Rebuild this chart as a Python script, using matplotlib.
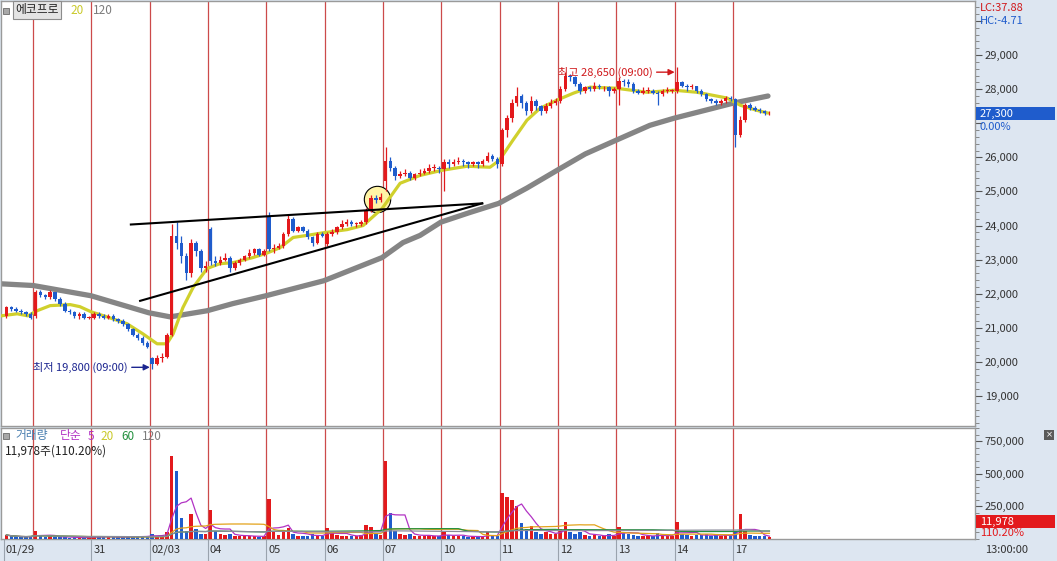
import numpy as np
import pandas as pd
import matplotlib
matplotlib.use('Agg')
import matplotlib.pyplot as plt
import matplotlib.ticker as mticker
from matplotlib.patches import Rectangle

plt.rcParams['font.family'] = ['Noto Sans CJK KR', 'DejaVu Sans']
plt.rcParams['axes.unicode_minus'] = False

# ---- data: 30분봉, 에코프로 01/29 ~ 02/17 ----
day_labels = ['01/29', '', '31', '02/03', '04', '05', '06', '07', '10', '11', '12', '13', '14', '17']
day_sizes = [6, 12, 12, 12, 12, 12, 12, 12, 12, 12, 12, 12, 12, 8]

opens = [
    21350, 21600, 21550, 21500, 21450, 21400,
    21350, 22050, 21950, 21900, 22050, 21850, 21700, 21500, 21450, 21350, 21400, 21300,
    21300, 21400, 21350, 21300, 21350, 21250, 21200, 21100, 20950, 20800, 20700, 20550,
    20100, 19950, 20100, 20150, 20800, 23700, 23500, 23100, 22600, 23500, 23250, 22750,
    23900, 22950, 22900, 23000, 23050, 22750, 22900, 23000, 23100, 23200, 23300, 23150,
    24250, 23300, 23350, 23400, 23750, 24200, 23850, 23950, 23850, 23650, 23500, 23750,
    23450, 23750, 23800, 23950, 24050, 24100, 24050, 24050, 24100, 24450, 24800, 24750,
    25300, 25900, 25700, 25450, 25500, 25550, 25400, 25500, 25550, 25600, 25700, 25700,
    25650, 25850, 25800, 25850, 25900, 25850, 25800, 25850, 25800, 25900, 26050, 25950,
    25800, 26800, 27150, 27600, 27800, 27600, 27350, 27650, 27500, 27350, 27500, 27600,
    27650, 28000, 28400, 28350, 28150, 27950, 28050, 28000, 28100, 28050, 28050, 27950,
    28000, 28250, 28200, 28150, 27950, 27900, 27950, 27950, 27900, 27850, 27950, 27950,
    27950, 28200, 28100, 28050, 28100, 27950, 27850, 27700, 27650, 27600, 27650, 27750,
    27700, 26650, 27100, 27550, 27450, 27400, 27350, 27300,
]
highs = [
    21650, 21650, 21600, 21550, 21500, 21450,
    22100, 22100, 22000, 22100, 22050, 21900, 21750, 21550, 21500, 21450, 21450, 21350,
    21450, 21450, 21400, 21400, 21400, 21300, 21250, 21150, 21000, 20850, 20750, 20600,
    20150, 20200, 20250, 20850, 24050, 24100, 23700, 23200, 23600, 23550, 23300, 22950,
    23950, 23100, 23100, 23200, 23100, 22950, 23050, 23150, 23300, 23350, 23350, 23300,
    24400, 23450, 23500, 23800, 24300, 24250, 24000, 24000, 23900, 23700, 23800, 23800,
    23800, 23900, 24000, 24150, 24200, 24150, 24100, 24150, 24500, 24900, 24900, 24950,
    26300, 26000, 25750, 25600, 25650, 25600, 25550, 25650, 25700, 25800, 25800, 25750,
    25950, 25950, 25950, 26000, 25950, 25900, 25900, 25900, 25950, 26150, 26100, 26000,
    26850, 27250, 27700, 28050, 27850, 27650, 27800, 27700, 27550, 27600, 27700, 27750,
    28100, 28500, 28450, 28400, 28200, 28100, 28100, 28200, 28150, 28100, 28100, 28050,
    28350, 28300, 28300, 28200, 28000, 28050, 28050, 28000, 27950, 28000, 28050, 28000,
    28650, 28250, 28150, 28150, 28100, 28000, 27900, 27750, 27700, 27700, 27800, 27800,
    27750, 27200, 27600, 27600, 27500, 27450, 27400, 27350,
]
lows = [
    21300, 21500, 21450, 21400, 21350, 21250,
    21300, 21900, 21850, 21850, 21800, 21650, 21450, 21400, 21300, 21250, 21250, 21250,
    21250, 21300, 21250, 21250, 21200, 21150, 21050, 20900, 20750, 20650, 20500, 20400,
    19800, 19900, 20000, 20100, 20750, 23300, 22900, 22400, 22500, 23100, 22650, 22650,
    22850, 22800, 22850, 22950, 22650, 22700, 22850, 22950, 23050, 23150, 23100, 23100,
    23250, 23200, 23300, 23350, 23700, 23800, 23800, 23800, 23600, 23400, 23450, 23650,
    23400, 23700, 23750, 23900, 24000, 24000, 23950, 24000, 24050, 24400, 24650, 24700,
    25000, 25600, 25350, 25400, 25450, 25350, 25350, 25450, 25500, 25550, 25600, 25550,
    25000, 25700, 25750, 25800, 25750, 25700, 25750, 25700, 25750, 25850, 25900, 25700,
    25750, 26600, 27050, 27500, 27450, 27250, 27300, 27400, 27250, 27300, 27450, 27550,
    27600, 27950, 28250, 28100, 27850, 27900, 27950, 27950, 28000, 27950, 27800, 27900,
    27550, 28100, 28050, 27900, 27850, 27850, 27900, 27850, 27550, 27800, 27900, 27900,
    27900, 28050, 27950, 28000, 27900, 27800, 27650, 27600, 27550, 27550, 27600, 27650,
    26300, 26600, 27050, 27400, 27350, 27300, 27250, 27250,
]
closes = [
    21600, 21550, 21500, 21450, 21400, 21300,
    22050, 21950, 21900, 22050, 21850, 21700, 21500, 21450, 21350, 21400, 21300, 21300,
    21400, 21350, 21300, 21350, 21250, 21200, 21100, 20950, 20800, 20700, 20550, 20450,
    19950, 20100, 20150, 20800, 23700, 23500, 23100, 22600, 23500, 23250, 22750, 22800,
    22950, 22900, 23000, 23050, 22750, 22900, 23000, 23100, 23200, 23300, 23150, 23250,
    23300, 23350, 23400, 23750, 24200, 23850, 23950, 23850, 23650, 23500, 23750, 23700,
    23750, 23800, 23950, 24050, 24100, 24050, 24050, 24100, 24450, 24800, 24750, 24850,
    25900, 25700, 25450, 25500, 25550, 25400, 25500, 25550, 25600, 25700, 25700, 25650,
    25850, 25800, 25850, 25900, 25850, 25800, 25850, 25800, 25900, 26050, 25950, 25800,
    26800, 27150, 27600, 27800, 27600, 27350, 27650, 27500, 27350, 27500, 27600, 27650,
    28000, 28400, 28350, 28150, 27950, 28050, 28000, 28100, 28050, 28050, 27950, 28000,
    28250, 28200, 28150, 27950, 27900, 27950, 27950, 27900, 27850, 27950, 27950, 27950,
    28200, 28100, 28050, 28100, 27950, 27850, 27700, 27650, 27600, 27650, 27750, 27700,
    26650, 27100, 27550, 27450, 27400, 27350, 27300, 27300,
]
volumes = [
    30000, 20000, 15000, 12000, 15000, 25000,
    60000, 20000, 15000, 25000, 15000, 12000, 15000, 10000, 12000, 10000, 10000, 15000,
    25000, 15000, 15000, 12000, 15000, 12000, 15000, 20000, 18000, 15000, 20000, 25000,
    40000, 25000, 20000, 50000, 636000, 520000, 160000, 60000, 191000, 77000, 40000, 35000,
    222000, 60000, 35000, 30000, 35000, 20000, 25000, 20000, 25000, 20000, 15000, 20000,
    306000, 60000, 30000, 50000, 84000, 40000, 25000, 20000, 25000, 35000, 30000, 20000,
    84000, 54000, 30000, 25000, 20000, 25000, 20000, 30000, 107000, 90000, 40000, 30000,
    597000, 199000, 60000, 35000, 30000, 40000, 25000, 20000, 25000, 30000, 20000, 20000,
    50000, 30000, 20000, 25000, 20000, 15000, 20000, 15000, 20000, 50000, 25000, 20000,
    350000, 320000, 300000, 250000, 120000, 80000, 100000, 50000, 40000, 50000, 40000, 35000,
    80000, 130000, 50000, 40000, 50000, 30000, 25000, 30000, 20000, 20000, 40000, 25000,
    90000, 50000, 40000, 30000, 20000, 25000, 20000, 20000, 45000, 25000, 20000, 20000,
    130000, 40000, 30000, 25000, 30000, 30000, 35000, 25000, 30000, 25000, 30000, 25000,
    60000, 191000, 60000, 30000, 25000, 20000, 20000, 11978,
]

# 이동평균 (차트에서 읽은 값, x = 봉 번호)
ma20_x = [-0.6, 2.7, 4.9, 6.8, 9.5, 13.6, 15.6, 17.9, 21.2, 25.3, 28.6, 31.5, 33.5, 34.8, 36.8, 38.9,
          41.8, 44.4, 47.1, 51.2, 53.9, 56.8, 59.5, 62.3, 65.8, 70.6, 73.9, 77.8, 81.5, 85.6, 90.1,
          95.3, 100.0, 101.9, 104.7, 107.6, 110.3, 113.8, 117.1, 120.6, 125.9, 132.3, 137.9, 142.6,
          145.9, 148.8, 151.5, 154.9, 157.2]
ma20_y = [21350, 21410, 21350, 21500, 21650, 21680, 21620, 21470, 21320, 21120, 20820, 20530, 20530, 20820, 21590, 22180,
          22740, 22880, 22910, 23060, 23180, 23350, 23650, 23710, 23790, 23880, 24000, 24500, 25240, 25470, 25620,
          25740, 25710, 25910, 26500, 27090, 27440, 27680, 27880, 28060, 28030, 27910, 27970, 27910,
          27820, 27740, 27530, 27380, 27300]
ma120_x = [-0.6, 6.0, 17.9, 29.8, 34.2, 41.8, 47.1, 53.9, 65.8, 77.8, 82.1, 85.6, 89.9, 95.8, 101.8,
           107.6, 113.8, 119.6, 125.9, 132.9, 137.9, 145.9, 150.0, 157.2]
ma120_y = [22290, 22240, 21940, 21440, 21320, 21500, 21710, 21940, 22380, 23060, 23500, 23710, 24100, 24380, 24650,
           25100, 25620, 26100, 26500, 26940, 27150, 27440, 27590, 27800]

# 추세선(삼각수렴)과 돌파 표시
trend_upper = ([26.1, 98.4], [24030, 24650])
trend_lower = ([28.0, 98.4], [21790, 24650])
breakout = (76.7, 24790)

W, H = 1057, 561
UP, DOWN = '#e3191c', '#1f5ccc'

o = np.array(opens); h = np.array(highs); l = np.array(lows); c = np.array(closes)
v = np.array(volumes)
n = len(c)
x = np.arange(n) + 0.5
day_starts = np.concatenate([[0], np.cumsum(day_sizes)[:-1]])

fig = plt.figure(figsize=(W / 100, H / 100), dpi=100, facecolor='#dde6f1')


def fx(px):
    return px / W


def fy(py):
    return 1 - py / H


ax = fig.add_axes([fx(1), fy(426), fx(975) - fx(1), fy(1) - fy(426)])
axv = fig.add_axes([fx(1), fy(539), fx(975) - fx(1), fy(428) - fy(539)], sharex=ax)
for a in (ax, axv):
    a.set_facecolor('white')
    for s in a.spines.values():
        s.set_color('#9a9a9a')
        s.set_linewidth(1)
    for b in day_starts[1:]:
        a.axvline(b, color='#cc4a4a', lw=0.9, zorder=1)

# ---- 가격 차트 ----
ax.plot(ma120_x, ma120_y, color='#858585', lw=3.8, solid_capstyle='round', zorder=2)
ax.scatter([breakout[0]], [breakout[1]], s=360, facecolor='#fff4a6', edgecolor='black', lw=0.8, zorder=2.5)
ax.plot(ma20_x, ma20_y, color='#d0d02c', lw=2.3, solid_capstyle='round', zorder=3)

cc = np.where(c >= o, UP, DOWN)
ax.vlines(x, l, h, colors=cc, lw=0.9, zorder=4)
ax.bar(x, np.maximum(np.abs(c - o), 15), bottom=np.minimum(o, c), width=0.72, color=cc, lw=0, zorder=4)

ax.plot(*trend_upper, color='black', lw=1.5, zorder=6)
ax.plot(*trend_lower, color='black', lw=1.5, zorder=6)

i_lo = int(np.argmin(l))
i_hi = int(np.argmax(h))
ax.annotate(f'최저 {l[i_lo]:,} (09:00)', xy=(i_lo, l[i_lo] + 40), xytext=(-16, 0), textcoords='offset points',
            ha='right', va='center', fontsize=8, color='#1c2590',
            arrowprops=dict(arrowstyle='-|>', color='#1c2590', lw=1, mutation_scale=9, shrinkA=1, shrinkB=0), zorder=7)
ax.annotate(f'최고 {h[i_hi]:,} (09:00)', xy=(i_hi, h[i_hi] - 150), xytext=(-16, 0), textcoords='offset points',
            ha='right', va='center', fontsize=8, color='#d0191c',
            arrowprops=dict(arrowstyle='-|>', color='#d0191c', lw=1, mutation_scale=9, shrinkA=1, shrinkB=0), zorder=7)

ax.set_xlim(-0.62, 199.8)
ax.set_ylim(18118, 30588)
ax.yaxis.tick_right()
ax.yaxis.set_major_locator(mticker.MultipleLocator(1000))
ax.yaxis.set_minor_locator(mticker.MultipleLocator(200))
# 27,000 눈금 라벨은 현재가 박스에 가려짐
ax.yaxis.set_major_formatter(mticker.FuncFormatter(
    lambda val, pos: f'{val:,.0f}' if 19000 <= val <= 29000 and val != 27000 else ''))
ax.tick_params(axis='y', which='major', length=5, width=0.8, color='#555555', labelsize=8, labelcolor='#333333', pad=2)
ax.tick_params(axis='y', which='minor', length=3, width=0.6, color='#777777')
ax.tick_params(axis='x', bottom=False, labelbottom=False)

# ---- 거래량 ----
prev = np.concatenate([[o[0]], c[:-1]])
vc = np.where(c >= prev, UP, DOWN)
axv.bar(x, v, width=0.72, color=vc, lw=0, zorder=3)
vs = pd.Series(v, dtype=float)
for win, col in zip([5, 20, 60, 120], ['#b233c4', '#e3a21a', '#24913f', '#8a8a9a']):
    axv.plot(x, vs.rolling(win, min_periods=1).mean(), color=col, lw=0.9, zorder=4)

axv.set_ylim(0, 850000)
axv.yaxis.tick_right()
axv.yaxis.set_major_locator(mticker.FixedLocator([250000, 500000, 750000]))
axv.yaxis.set_minor_locator(mticker.MultipleLocator(50000))
axv.yaxis.set_major_formatter(mticker.FuncFormatter(lambda val, pos: f'{val:,.0f}'))
axv.tick_params(axis='y', which='major', length=5, width=0.8, color='#555555', labelsize=8, labelcolor='#333333', pad=2)
axv.tick_params(axis='y', which='minor', length=3, width=0.6, color='#777777')

sep = [s for s, lab in zip(day_starts, day_labels) if lab]
axv.set_xticks(sep)
axv.set_xticklabels([''] * len(sep))
axv.tick_params(axis='x', length=16, width=0.8, color='#9aa3ae', direction='out')
for s, lab in zip(day_starts, day_labels):
    if lab:
        axv.text(s + 0.35, -0.1, lab, transform=axv.get_xaxis_transform(), ha='left', va='center',
                 fontsize=8, color='#333333', clip_on=False)

# ---- 상단 / 우측 라벨 ----
fig.patches.append(Rectangle((fx(3), fy(14)), fx(6), fy(8) - fy(14), transform=fig.transFigure,
                             facecolor='#a8a8a8', edgecolor='#6a6a6a', lw=0.6))
fig.text(fx(15), fy(10), '에코프로', fontsize=8.5, color='#222222', va='center', ha='left',
         bbox=dict(boxstyle='square,pad=0.2', fc='#e4e4e4', ec='#8c8c8c', lw=0.8))
fig.text(fx(70), fy(10), '20', fontsize=8.5, color='#c9c92a', va='center')
fig.text(fx(93), fy(10), '120', fontsize=8.5, color='#7c7c7c', va='center')

fig.patches.append(Rectangle((fx(3), fy(439)), fx(6), fy(433) - fy(439), transform=fig.transFigure,
                             facecolor='#a8a8a8', edgecolor='#6a6a6a', lw=0.6))
vol_legend = [('거래량', '#4a7fb0', 15), ('단순', '#b233c4', 60), ('5', '#b233c4', 88),
              ('20', '#c9c92a', 100), ('60', '#24913f', 121), ('120', '#7c7c7c', 142)]
for txt, col, px in vol_legend:
    fig.text(fx(px), fy(436), txt, fontsize=8.5, color=col, va='center')
fig.text(fx(5), fy(451), f'{volumes[-1]:,}주(110.20%)', fontsize=8.5, color='#222222', va='center')

fig.text(fx(980), fy(8), 'LC:37.88', fontsize=8, color='#d0191c', va='center')
fig.text(fx(980), fy(21), 'HC:-4.71', fontsize=8, color='#1f5ccc', va='center')
fig.patches.append(Rectangle((fx(976), fy(120)), fx(79), fy(107) - fy(120), transform=fig.transFigure,
                             facecolor='#1f5ccc', edgecolor='none'))
fig.text(fx(980), fy(113.5), f'{closes[-1]:,}', fontsize=8, color='white', va='center')
fig.text(fx(980), fy(127), '0.00%', fontsize=8, color='#1f5ccc', va='center')

fig.patches.append(Rectangle((fx(976), fy(528)), fx(79), fy(515) - fy(528), transform=fig.transFigure,
                             facecolor='#e3191c', edgecolor='none'))
fig.text(fx(980), fy(521.5), f'{volumes[-1]:,}', fontsize=8, color='white', va='center')
fig.text(fx(980), fy(533), '110.20%', fontsize=8, color='#e3191c', va='center')

fig.patches.append(Rectangle((fx(1044), fy(440)), fx(10), fy(430) - fy(440), transform=fig.transFigure,
                             facecolor='#5a5a5a', edgecolor='none'))
fig.text(fx(1049), fy(435), '×', fontsize=6, color='white', ha='center', va='center', family='DejaVu Sans')

fig.text(fx(985), fy(550), '13:00:00', fontsize=8, color='#333333', va='center')

fig.savefig('out.png', dpi=100, facecolor=fig.get_facecolor())
